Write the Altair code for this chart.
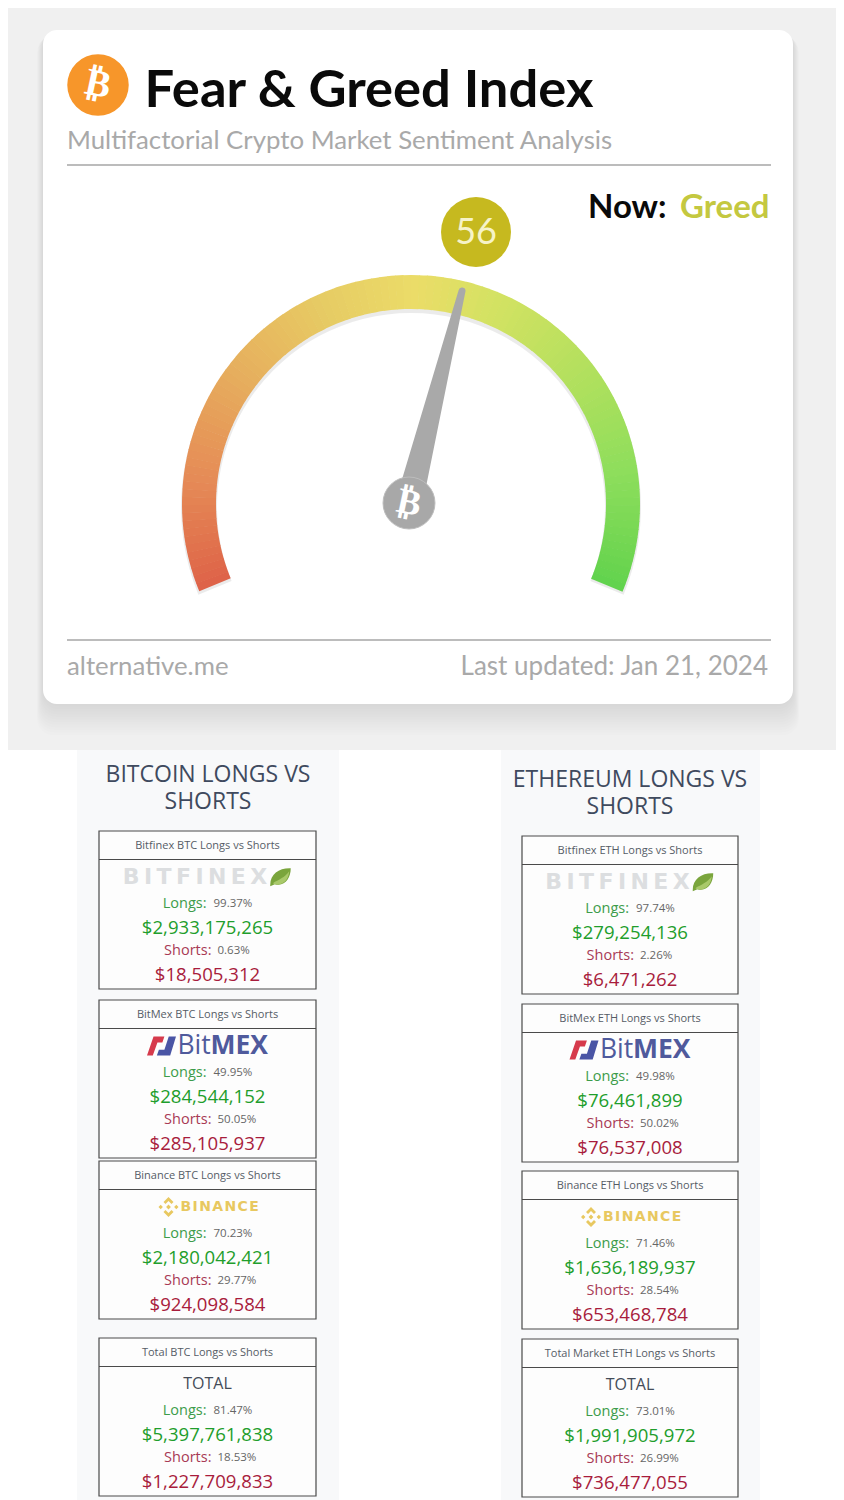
import altair as alt
import pandas as pd
import numpy as np

# ---------- values ----------
index_value = "56"
now_label = "Greed"
btc_titles = ["Bitfinex BTC Longs vs Shorts", "BitMex BTC Longs vs Shorts", "Binance BTC Longs vs Shorts", "Total BTC Longs vs Shorts"]
eth_titles = ["Bitfinex ETH Longs vs Shorts", "BitMex ETH Longs vs Shorts", "Binance ETH Longs vs Shorts", "Total Market ETH Longs vs Shorts"]
btc_long_pct = ["99.37%", "49.95%", "70.23%", "81.47%"]
btc_long_usd = ["$2,933,175,265", "$284,544,152", "$2,180,042,421", "$5,397,761,838"]
btc_short_pct = ["0.63%", "50.05%", "29.77%", "18.53%"]
btc_short_usd = ["$18,505,312", "$285,105,937", "$924,098,584", "$1,227,709,833"]
eth_long_pct = ["97.74%", "49.98%", "71.46%", "73.01%"]
eth_long_usd = ["$279,254,136", "$76,461,899", "$1,636,189,937", "$1,991,905,972"]
eth_short_pct = ["2.26%", "50.02%", "28.54%", "26.99%"]
eth_short_usd = ["$6,471,262", "$76,537,008", "$653,468,784", "$736,477,055"]
btc_tops = [831, 1000, 1161, 1338]
eth_tops = [836, 1004, 1171, 1339]
gauge_stops = [-112.4, -85, -55, -25, 0, 20, 50, 80, 112.4]
gauge_colors = ["#de6349", "#e58a57", "#e6ad5e", "#e6cb64", "#ebdc68", "#d5e263", "#b4e05e", "#8ede5c", "#5fd24d"]

W, H = 828, 1492
X = alt.Scale(domain=[8, 836], nice=False, zero=False)
Y = alt.Scale(domain=[1500, 8], nice=False, zero=False)


def xy():
    return dict(x=alt.X("x:Q", scale=X, axis=None), y=alt.Y("y:Q", scale=Y, axis=None))


def rect(x, x2, y, y2, **kw):
    d = pd.DataFrame({"x": [x], "x2": [x2], "y": [y], "y2": [y2]})
    return alt.Chart(d).mark_rect(**kw).encode(x2="x2:Q", y2="y2:Q", **xy())


def txt(rows, size, color, font="Open Sans", align="center", weight="normal", **kw):
    d = pd.DataFrame(rows, columns=["x", "y", "t"])
    return alt.Chart(d).mark_text(fontSize=size, color=color, font=font, align=align,
                                  baseline="middle", fontWeight=weight, **kw).encode(text="t:N", **xy())


def rule(x, x2, y, color, width):
    d = pd.DataFrame({"x": [x], "x2": [x2], "y": [y]})
    return alt.Chart(d).mark_rule(color=color, strokeWidth=width).encode(x2="x2:Q", **xy())


def sym(x, y, shape, size, color, **kw):
    d = pd.DataFrame({"x": [x], "y": [y]})
    return alt.Chart(d).mark_point(shape=shape, size=size, filled=True, color=color, opacity=1, **kw).encode(**xy())


layers = []
# page backgrounds
layers.append(rect(8, 836, 8, 750, color="#f0f0f0"))
layers.append(rect(8, 836, 750, 1500, color="#ffffff"))
layers.append(rect(77, 339, 750, 1500, color="#f8f9fa"))
layers.append(rect(501, 760, 750, 1500, color="#f8f9fa"))

# card shadow
for g in range(1, 13):
    layers.append(rect(43 - g * 0.5, 793 + g * 0.5, 30 + g // 2, 704 + g * 2.6, color="#000000", opacity=0.006, cornerRadius=16))
layers.append(rect(43, 793, 30, 704, color="#ffffff", cornerRadius=14))

# header
layers.append(sym(98, 85, "circle", 3780, "#f7962a"))
layers.append(txt([(144.5, 91, "Fear & Greed Index")], 52.5, "#0a0a0a", font="Lato", align="left", weight="bold"))
layers.append(txt([(67, 140.5, "Multifactorial Crypto Market Sentiment Analysis")], 25.8, "#a9a9a9", font="Lato", align="left"))
layers.append(rule(67, 771, 165, "#bcbcbc", 2))
layers.append(txt([(588, 208, "Now:")], 33, "#0a0a0a", font="Lato", align="left", weight="bold"))
layers.append(txt([(680, 208, now_label)], 33, "#c4c840", font="Lato", align="left", weight="bold"))

# gauge
CX, CY, RO, RI = 411, 504, 229, 195
edges = np.linspace(gauge_stops[0], gauge_stops[-1], 113)
g = pd.DataFrame({"x": CX, "y": CY, "a": edges[:-1], "a2": edges[1:] + 0.15})
g["th"] = np.radians(g["a"])
g["th2"] = np.radians(g["a2"])
g_shadow = pd.DataFrame({"x": [CX], "y": [CY + 3], "th": [np.radians(-112.4)], "th2": [np.radians(112.4)]})
layers.append(alt.Chart(g_shadow).mark_arc(color="#000000", opacity=0.08, radius=RO + 1, radius2=RI - 1).encode(
    theta=alt.Theta("th:Q", scale=None), theta2="th2:Q", **xy()))
layers.append(alt.Chart(g).mark_arc(radius=RO, radius2=RI).encode(
    theta=alt.Theta("th:Q", scale=None), theta2="th2:Q",
    color=alt.Color("a:Q", legend=None, scale=alt.Scale(domain=gauge_stops, range=gauge_colors)),
    **xy()))

# needle and hub
needle = pd.DataFrame({"x": [409, 462], "y": [503, 291], "w": [27, 7]})
layers.append(alt.Chart(needle).mark_trail(color="#a9a9a9").encode(
    size=alt.Size("w:Q", scale=None, legend=None), **xy()))
layers.append(sym(409, 503, "circle", 2700, "#a8a8a8", stroke="#bdbdbd", strokeWidth=1))
layers.append(txt([(409, 503, "₿")], 36, "#ffffff", font="DejaVu Sans", weight="bold", angle=12))
layers.append(txt([(98, 85, "₿")], 38, "#ffffff", font="DejaVu Sans", weight="bold", angle=12))

# value bubble
layers.append(sym(476, 232, "circle", 4900, "#c6b91f"))
layers.append(txt([(476, 233, index_value)], 36, "#f6f3c8", font="Lato"))

# footer
layers.append(rule(67, 771, 640, "#bcbcbc", 2))
layers.append(txt([(67, 667, "alternative.me")], 25.8, "#a9a9a9", font="Lato", align="left"))
layers.append(txt([(768, 667, "Last updated: Jan 21, 2024")], 26, "#a9a9a9", font="Lato", align="right"))

# column headings
layers.append(txt([(208, 775, "BITCOIN LONGS VS"), (208, 802, "SHORTS"),
                   (630, 780, "ETHEREUM LONGS VS"), (630, 807, "SHORTS")], 23, "#3f4a5e"))

LEAF = "M -1 0.75 C -1 -0.3 -0.1 -0.9 1 -0.85 C 1 0.1 0.4 1 -0.55 0.7 L -1 0.9 Z"
LEAF2 = "M -0.75 0.6 C -0.2 0.3 0.5 0 0.85 -0.55 C 0.8 0.2 0.3 0.9 -0.55 0.7 Z"
BMX_R = "M -1 0.65 L -0.55 -0.65 L 0.2 -0.65 L 0.06 -0.25 L -0.28 -0.25 L -0.6 0.65 Z"
BMX_B = "M 1 -0.65 L 0.6 0.65 L -0.32 0.65 L -0.18 0.25 L 0.2 0.25 L 0.5 -0.65 Z"
BNB = ("M 0 -1 L 0.5 -0.5 L 0.3 -0.3 L 0 -0.6 L -0.3 -0.3 L -0.5 -0.5 Z "
       "M 0 1 L 0.5 0.5 L 0.3 0.3 L 0 0.6 L -0.3 0.3 L -0.5 0.5 Z "
       "M -1 0 L -0.78 -0.22 L -0.56 0 L -0.78 0.22 Z M 1 0 L 0.78 -0.22 L 0.56 0 L 0.78 0.22 Z "
       "M 0 -0.24 L 0.24 0 L 0 0.24 L -0.24 0 Z")


def column(cx, x0, x1, tops, titles, lp, lu, sp, su):
    out = []
    for i, top in enumerate(tops):
        out.append(rect(x0, x1, top, top + 158, fill="#fdfdfd", stroke="#4a4a4a", strokeWidth=1.2))
        out.append(rule(x0, x1, top + 28.5, "#4a4a4a", 1.2))
    out.append(txt([(cx, t + 14.5, s) for t, s in zip(tops, titles)], 11, "#555c66"))
    out.append(txt([(cx - 1, t + 72.5, "Longs:") for t in tops], 14.5, "#3c9c4a", align="right"))
    out.append(txt([(cx + 6, t + 73, s) for t, s in zip(tops, lp)], 11.5, "#666666", align="left"))
    out.append(txt([(cx, t + 96.5, s) for t, s in zip(tops, lu)], 18.6, "#1f9e2c"))
    out.append(txt([(cx + 4, t + 119.5, "Shorts:") for t in tops], 14.5, "#a83a55", align="right"))
    out.append(txt([(cx + 10, t + 120, s) for t, s in zip(tops, sp)], 11.5, "#666666", align="left"))
    out.append(txt([(cx, t + 143.5, s) for t, s in zip(tops, su)], 18.6, "#a81c3c"))
    # Bitfinex logo
    out.append(txt([(cx - 12.5, tops[0] + 46, "B\u2009I\u2009T\u2009F\u2009I\u2009N\u2009E\u2009X")], 22, "#dcdee0",
                   font="DejaVu Sans", weight="bold"))
    out.append(sym(cx + 73, tops[0] + 46, LEAF, 420, "#7aa53c"))
    out.append(sym(cx + 73, tops[0] + 46, LEAF2, 420, "#a9c96a"))
    # BitMEX logo
    out.append(sym(cx - 46, tops[1] + 46, BMX_R, 841, "#d63a4c"))
    out.append(sym(cx - 46, tops[1] + 46, BMX_B, 841, "#4a55a5"))
    out.append(txt([(cx - 30, tops[1] + 46, "Bit")], 26.5, "#4f5a9c", align="left"))
    out.append(txt([(cx + 3, tops[1] + 46, "MEX")], 26.5, "#4f5a9c", align="left", weight="bold"))
    # Binance logo
    out.append(sym(cx - 39, tops[2] + 46, BNB, 400, "#e8c860"))
    out.append(txt([(cx - 27, tops[2] + 46, "B\u200aI\u200aN\u200aA\u200aN\u200aC\u200aE")], 14, "#e8c860",
                   font="DejaVu Sans", align="left", weight="bold"))
    # Total
    out.append(txt([(cx, tops[3] + 46, "TOTAL")], 16, "#444c58"))
    return out


layers += column(207.5, 99, 316, btc_tops, btc_titles, btc_long_pct, btc_long_usd, btc_short_pct, btc_short_usd)
layers += column(630, 522, 738, eth_tops, eth_titles, eth_long_pct, eth_long_usd, eth_short_pct, eth_short_usd)

chart = alt.layer(*layers).properties(
    width=W, height=H, padding=0, background="#ffffff",
    autosize=alt.AutoSizeParams(type="none"),
).configure_view(stroke=None)

chart.save("out.html", embed_options={"renderer": "svg", "actions": False})
